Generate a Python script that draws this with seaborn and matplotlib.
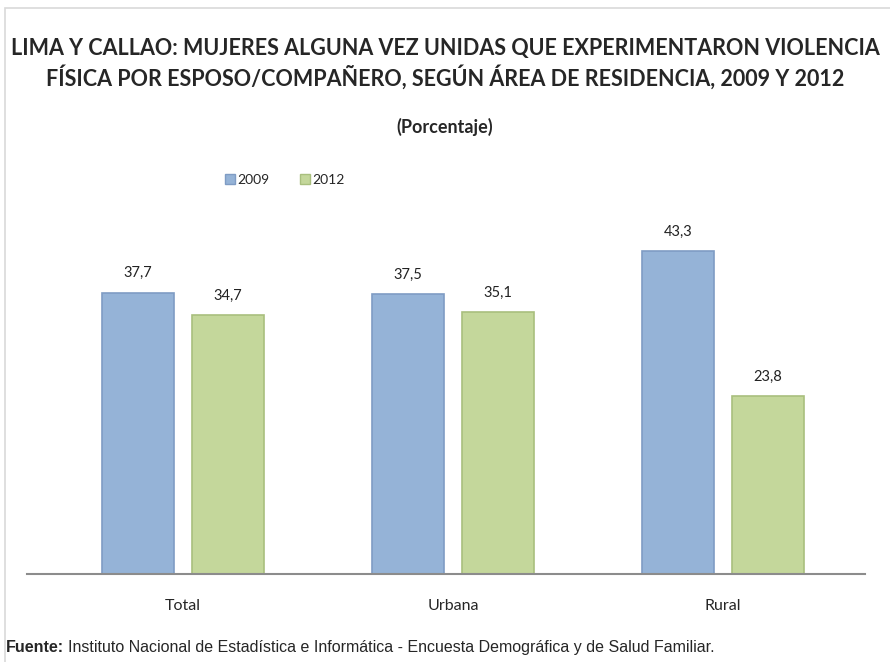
import matplotlib
matplotlib.use("Agg")
import matplotlib.pyplot as plt
import matplotlib.patches as mpatches
import pandas as pd
import seaborn as sns

areas = ["Total", "Urbana", "Rural"]
years = ["2009", "2012"]
values_2009 = [37.7, 37.5, 43.3]
values_2012 = [34.7, 35.1, 23.8]
colors = ["#95B3D7", "#C4D79B"]
edges = ["#7F9CC4", "#A9BF7E"]

df = pd.DataFrame({
    "area": areas * 2,
    "year": [years[0]] * 3 + [years[1]] * 3,
    "pct": values_2009 + values_2012,
})

sns.set_style("white")
plt.rcParams["font.family"] = ["Lato", "DejaVu Sans"]

fig = plt.figure(figsize=(8.9, 6.62), dpi=100)
ax = fig.add_axes([27 / 890, 88 / 662, 838 / 890, 373 / 662])

sns.barplot(data=df, x="area", y="pct", hue="year", palette=colors,
            width=0.667, gap=0.2, ax=ax, legend=False, saturation=1)

for i, cont in enumerate(ax.containers):
    for bar in cont:
        bar.set_edgecolor(edges[i])
        bar.set_linewidth(1.2)
    ax.bar_label(cont, labels=[f"{v:.1f}".replace(".", ",") for v in cont.datavalues],
                 padding=9, fontsize=10.5, color="#222222")

ax.set_xlim(-0.578, 2.526)
ax.set_ylim(0, 50)
ax.set_yticks([])
ax.set_xlabel("")
ax.set_ylabel("")
for s in ["top", "right", "left"]:
    ax.spines[s].set_visible(False)
ax.spines["bottom"].set_color("#8C8C8C")
ax.spines["bottom"].set_linewidth(1.5)
ax.tick_params(axis="x", length=0, pad=18, labelsize=11.5)

# chart frame
fig.patches.append(mpatches.Rectangle((5 / 890, -0.1), 2, (662 - 8) / 662 + 0.1,
                                      transform=fig.transFigure, fill=False,
                                      edgecolor="#D9D9D9", linewidth=1.2))

fig.text(0.5, 1 - 48 / 662, "LIMA Y CALLAO: MUJERES ALGUNA VEZ UNIDAS QUE EXPERIMENTARON VIOLENCIA",
         ha="center", va="center", fontsize=15.5, fontweight="bold")
fig.text(0.5, 1 - 77 / 662, "FÍSICA POR ESPOSO/COMPAÑERO, SEGÚN ÁREA DE RESIDENCIA, 2009 Y 2012",
         ha="center", va="center", fontsize=15.5, fontweight="bold")
fig.text(0.5, 1 - 127 / 662, "(Porcentaje)", ha="center", va="center",
         fontsize=13, fontweight="bold")

handles = [mpatches.Patch(facecolor=colors[i], edgecolor=edges[i], label=years[i]) for i in range(2)]
fig.legend(handles=handles, loc="center", bbox_to_anchor=(285 / 890, 1 - 180 / 662),
           ncol=2, frameon=False, fontsize=10, handlelength=0.7, handleheight=0.7,
           handletextpad=0.2, columnspacing=2.2)

# source line
src = ["Liberation Sans", "DejaVu Sans"]
t = fig.text(6 / 890, 1 - 652 / 662, "Fuente:", ha="left", va="baseline", fontsize=11.5,
             fontweight="bold", family=src)
fig.canvas.draw()
bb = t.get_window_extent()
fig.text(bb.x1 / fig.bbox.width + 4 / 890, 1 - 652 / 662,
         "Instituto Nacional de Estadística e Informática - Encuesta Demográfica y de Salud Familiar.",
         ha="left", va="baseline", fontsize=11.5, family=src)

fig.savefig("out.png", dpi=100)
